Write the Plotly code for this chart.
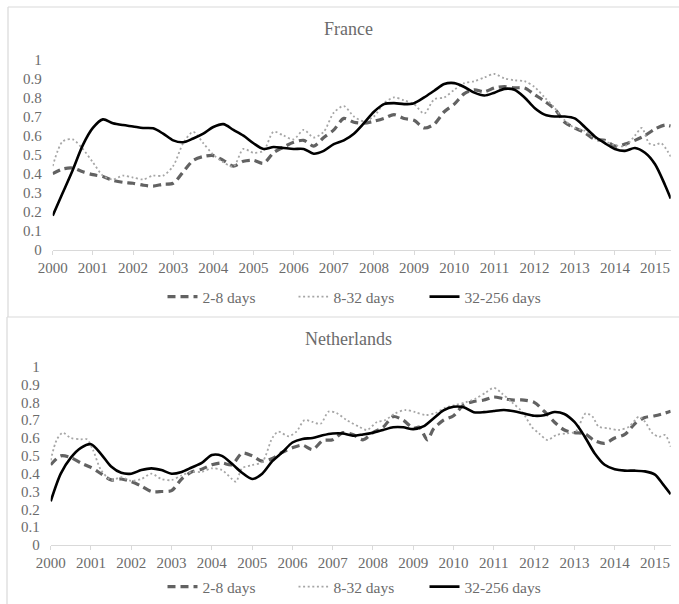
import plotly.graph_objects as go

W, H = 679, 604

# ---------------------------------------
# DATA
# ---------------------------------------
years = list(range(2000, 2016))
series_names = ["2-8 days", "8-32 days", "32-256 days"]

fr_short_x = [2000.00, 2000.25, 2000.50, 2000.75, 2001.00, 2001.25, 2001.50, 2001.75,
              2002.00, 2002.25, 2002.50, 2002.75, 2003.00, 2003.25, 2003.50, 2003.75,
              2004.00, 2004.25, 2004.50, 2004.75, 2005.00, 2005.25, 2005.50, 2005.75,
              2006.00, 2006.25, 2006.50, 2006.75, 2007.00, 2007.25, 2007.50, 2007.75,
              2008.00, 2008.25, 2008.50, 2008.75, 2009.00, 2009.25, 2009.50, 2009.75,
              2010.00, 2010.25, 2010.50, 2010.75, 2011.00, 2011.25, 2011.50, 2011.75,
              2012.00, 2012.25, 2012.50, 2012.75, 2013.00, 2013.25, 2013.50, 2013.75,
              2014.00, 2014.25, 2014.50, 2014.75, 2015.00, 2015.25, 2015.39]
fr_short_y = [0.40, 0.425, 0.43, 0.41, 0.395, 0.385, 0.365, 0.355,
              0.35, 0.34, 0.335, 0.345, 0.35, 0.41, 0.47, 0.49,
              0.495, 0.47, 0.44, 0.465, 0.47, 0.455, 0.51, 0.54,
              0.565, 0.575, 0.545, 0.59, 0.63, 0.69, 0.67, 0.665,
              0.675, 0.69, 0.71, 0.69, 0.68, 0.64, 0.66, 0.725,
              0.765, 0.82, 0.84, 0.83, 0.85, 0.857, 0.85, 0.85,
              0.815, 0.78, 0.74, 0.67, 0.64, 0.615, 0.58, 0.575,
              0.545, 0.555, 0.575, 0.60, 0.635, 0.655, 0.65]

fr_mid_x = [2000.00, 2000.25, 2000.50, 2000.75, 2001.00, 2001.25, 2001.50, 2001.75,
            2002.00, 2002.25, 2002.50, 2002.75, 2003.00, 2003.25, 2003.50, 2003.75,
            2004.00, 2004.25, 2004.50, 2004.75, 2005.00, 2005.25, 2005.50, 2005.75,
            2006.00, 2006.25, 2006.50, 2006.75, 2007.00, 2007.25, 2007.50, 2007.75,
            2008.00, 2008.25, 2008.50, 2008.75, 2009.00, 2009.25, 2009.50, 2009.75,
            2010.00, 2010.25, 2010.50, 2010.75, 2011.00, 2011.25, 2011.50, 2011.75,
            2012.00, 2012.25, 2012.50, 2012.75, 2013.00, 2013.25, 2013.50, 2013.75,
            2014.00, 2014.25, 2014.50, 2014.67, 2014.85, 2015.00, 2015.15, 2015.39]
fr_mid_y = [0.44, 0.57, 0.58, 0.53, 0.46, 0.39, 0.37, 0.39,
            0.38, 0.37, 0.39, 0.39, 0.44, 0.56, 0.62, 0.56,
            0.50, 0.46, 0.437, 0.53, 0.51, 0.52, 0.62, 0.60,
            0.58, 0.63, 0.59, 0.62, 0.72, 0.755, 0.70, 0.675,
            0.70, 0.77, 0.80, 0.785, 0.765, 0.715, 0.79, 0.80,
            0.84, 0.875, 0.885, 0.905, 0.923, 0.90, 0.89, 0.885,
            0.855, 0.80, 0.745, 0.68, 0.64, 0.625, 0.585, 0.57,
            0.55, 0.545, 0.60, 0.64, 0.56, 0.55, 0.56, 0.49]

fr_long_x = [2000.00, 2000.25, 2000.50, 2000.75, 2001.00, 2001.25, 2001.50, 2001.75,
             2002.00, 2002.25, 2002.50, 2002.75, 2003.00, 2003.25, 2003.50, 2003.75,
             2004.00, 2004.25, 2004.50, 2004.75, 2005.00, 2005.25, 2005.50, 2005.75,
             2006.00, 2006.25, 2006.50, 2006.75, 2007.00, 2007.25, 2007.50, 2007.75,
             2008.00, 2008.25, 2008.50, 2008.75, 2009.00, 2009.25, 2009.50, 2009.75,
             2010.00, 2010.25, 2010.50, 2010.75, 2011.00, 2011.25, 2011.50, 2011.75,
             2012.00, 2012.25, 2012.50, 2012.75, 2013.00, 2013.25, 2013.50, 2013.75,
             2014.00, 2014.25, 2014.50, 2014.75, 2015.00, 2015.25, 2015.39]
fr_long_y = [0.18, 0.30, 0.42, 0.55, 0.64, 0.685, 0.665, 0.655,
             0.648, 0.64, 0.638, 0.61, 0.575, 0.565, 0.585, 0.61,
             0.645, 0.66, 0.63, 0.60, 0.56, 0.53, 0.54, 0.535,
             0.53, 0.53, 0.505, 0.52, 0.555, 0.575, 0.61, 0.665,
             0.725, 0.765, 0.77, 0.765, 0.77, 0.80, 0.835, 0.87,
             0.875, 0.855, 0.825, 0.81, 0.825, 0.845, 0.84, 0.80,
             0.745, 0.71, 0.70, 0.70, 0.69, 0.645, 0.595, 0.56,
             0.53, 0.52, 0.535, 0.51, 0.45, 0.34, 0.27]

nl_short_x = [2000.00, 2000.25, 2000.50, 2000.75, 2001.00, 2001.25, 2001.50, 2001.75,
              2002.00, 2002.25, 2002.50, 2002.75, 2003.00, 2003.25, 2003.50, 2003.75,
              2004.00, 2004.25, 2004.50, 2004.75, 2005.00, 2005.25, 2005.50, 2005.75,
              2006.00, 2006.25, 2006.50, 2006.75, 2007.00, 2007.25, 2007.50, 2007.75,
              2008.00, 2008.25, 2008.50, 2008.75, 2009.00, 2009.15, 2009.35, 2009.50,
              2009.75, 2010.00, 2010.25, 2010.50, 2010.75, 2011.00, 2011.25, 2011.50,
              2011.75, 2012.00, 2012.25, 2012.50, 2012.75, 2013.00, 2013.25, 2013.50,
              2013.75, 2014.00, 2014.25, 2014.50, 2014.75, 2015.00, 2015.25, 2015.39]
nl_short_y = [0.45, 0.50, 0.49, 0.46, 0.435, 0.40, 0.365, 0.37,
              0.355, 0.33, 0.30, 0.30, 0.305, 0.37, 0.41, 0.425,
              0.45, 0.46, 0.45, 0.515, 0.50, 0.47, 0.485, 0.52,
              0.545, 0.56, 0.535, 0.585, 0.59, 0.63, 0.62, 0.59,
              0.63, 0.66, 0.72, 0.70, 0.655, 0.66, 0.59, 0.65,
              0.70, 0.725, 0.785, 0.805, 0.813, 0.83, 0.82, 0.813,
              0.813, 0.80, 0.75, 0.69, 0.645, 0.63, 0.625, 0.585,
              0.57, 0.60, 0.62, 0.68, 0.715, 0.725, 0.74, 0.75]

nl_mid_x = [2000.00, 2000.15, 2000.30, 2000.50, 2000.75, 2000.90, 2001.05, 2001.25,
            2001.50, 2001.75, 2002.00, 2002.25, 2002.50, 2002.75, 2003.00, 2003.25,
            2003.50, 2003.75, 2004.00, 2004.25, 2004.50, 2004.60, 2004.75, 2005.00,
            2005.25, 2005.50, 2005.65, 2005.90, 2006.10, 2006.30, 2006.50, 2006.70,
            2006.90, 2007.10, 2007.35, 2007.65, 2007.85, 2008.10, 2008.30, 2008.55,
            2008.80, 2009.05, 2009.30, 2009.55, 2009.80, 2010.05, 2010.30, 2010.55,
            2010.80, 2011.00, 2011.20, 2011.45, 2011.70, 2011.95, 2012.12, 2012.33,
            2012.55, 2012.80, 2013.03, 2013.28, 2013.45, 2013.60, 2013.86, 2014.10,
            2014.36, 2014.60, 2014.75, 2014.94, 2015.10, 2015.25, 2015.39]
nl_mid_y = [0.475, 0.59, 0.63, 0.60, 0.593, 0.593, 0.533, 0.42,
            0.364, 0.38, 0.36, 0.37, 0.40, 0.37, 0.364, 0.39,
            0.41, 0.41, 0.43, 0.42, 0.37, 0.355, 0.43, 0.448,
            0.465, 0.60, 0.636, 0.61, 0.636, 0.70, 0.69, 0.68,
            0.748, 0.74, 0.70, 0.664, 0.645, 0.69, 0.70, 0.738,
            0.757, 0.745, 0.729, 0.74, 0.77, 0.785, 0.80, 0.822,
            0.855, 0.882, 0.85, 0.80, 0.748, 0.66, 0.626, 0.589,
            0.617, 0.626, 0.636, 0.738, 0.72, 0.664, 0.654, 0.645,
            0.664, 0.72, 0.692, 0.626, 0.607, 0.617, 0.551]

nl_long_x = [2000.00, 2000.25, 2000.50, 2000.75, 2001.00, 2001.25, 2001.50, 2001.75,
             2002.00, 2002.25, 2002.50, 2002.75, 2003.00, 2003.25, 2003.50, 2003.75,
             2004.00, 2004.25, 2004.50, 2004.75, 2005.00, 2005.25, 2005.50, 2005.75,
             2006.00, 2006.25, 2006.50, 2006.75, 2007.00, 2007.25, 2007.50, 2007.75,
             2008.00, 2008.25, 2008.50, 2008.75, 2009.00, 2009.25, 2009.50, 2009.75,
             2010.00, 2010.25, 2010.50, 2010.75, 2011.00, 2011.25, 2011.50, 2011.75,
             2012.00, 2012.25, 2012.50, 2012.75, 2013.00, 2013.25, 2013.50, 2013.75,
             2014.00, 2014.25, 2014.50, 2014.75, 2015.00, 2015.20, 2015.39]
nl_long_y = [0.245, 0.40, 0.49, 0.545, 0.565, 0.51, 0.44, 0.405,
             0.40, 0.42, 0.43, 0.42, 0.40, 0.41, 0.435, 0.46,
             0.505, 0.50, 0.455, 0.405, 0.37, 0.40, 0.47, 0.52,
             0.575, 0.595, 0.60, 0.615, 0.625, 0.625, 0.613, 0.62,
             0.63, 0.645, 0.66, 0.66, 0.65, 0.665, 0.71, 0.755,
             0.775, 0.772, 0.745, 0.745, 0.752, 0.757, 0.75, 0.737,
             0.725, 0.728, 0.746, 0.735, 0.69, 0.61, 0.515, 0.45,
             0.425, 0.417, 0.417, 0.413, 0.395, 0.34, 0.285]

# ---------------------------------------
# STYLE
# ---------------------------------------
FONT = "Liberation Serif"
TEXT = "#6b6b6b"
AXIS = "#d9d9d9"

styles = [
    dict(color="#626262", width=3.2, dash="8px,5px"),
    dict(color="#a6a6a6", width=1.8, dash="2px,2.6px"),
    dict(color="#000000", width=2.6),
]


def px_x(x):
    return x / W


def px_y(y):
    return 1 - y / H


fig = go.Figure()

panels = [
    ("x", "y", "legend", [(fr_short_x, fr_short_y), (fr_mid_x, fr_mid_y), (fr_long_x, fr_long_y)]),
    ("x2", "y2", "legend2", [(nl_short_x, nl_short_y), (nl_mid_x, nl_mid_y), (nl_long_x, nl_long_y)]),
]

for xa, ya, leg, data in panels:
    for name, (xs, ys), st in zip(series_names, data, styles):
        fig.add_trace(go.Scatter(
            x=xs, y=ys, name=name, mode="lines",
            line=dict(shape="spline", smoothing=0.8, **st),
            xaxis=xa, yaxis=ya, legend=leg,
        ))

xaxis_common = dict(
    range=[2000, 2015.39],
    tickvals=years,
    ticktext=[str(y) for y in years],
    showgrid=False,
    zeroline=False,
    showline=True,
    linecolor=AXIS,
    linewidth=1,
    ticks="outside",
    ticklen=4,
    tickcolor=AXIS,
    automargin=False,
    tickfont=dict(family=FONT, size=15, color=TEXT),
)
yaxis_common = dict(
    range=[0, 1],
    dtick=0.1,
    showgrid=False,
    zeroline=False,
    showline=False,
    ticks="",
    ticklabelstandoff=10,
    automargin=False,
    tickfont=dict(family=FONT, size=15, color=TEXT),
)

legend_common = dict(
    orientation="h",
    xanchor="center",
    yanchor="middle",
    x=359 / W,
    font=dict(family=FONT, size=15.5, color=TEXT),
    bgcolor="rgba(0,0,0,0)",
    entrywidth=86,
)

fig.update_layout(
    template="none",
    width=W,
    height=H,
    margin=dict(l=0, r=0, t=0, b=0, autoexpand=False),
    paper_bgcolor="white",
    plot_bgcolor="white",
    showlegend=True,
    xaxis=dict(domain=[px_x(52.7), px_x(670.7)], anchor="y", **xaxis_common),
    yaxis=dict(domain=[px_y(250), px_y(59.3)], anchor="x", **yaxis_common),
    xaxis2=dict(domain=[px_x(50.7), px_x(670.7)], anchor="y2", **xaxis_common),
    yaxis2=dict(domain=[px_y(545), px_y(366.7)], anchor="x2", **yaxis_common),
    legend=dict(y=px_y(297), **legend_common),
    legend2=dict(y=px_y(587), **legend_common),
)

# panel titles
for title, ty in [("France", 29), ("Netherlands", 339)]:
    fig.add_annotation(
        text=title, xref="paper", yref="paper",
        x=px_x(349), y=px_y(ty), xanchor="center", yanchor="middle",
        showarrow=False, font=dict(family=FONT, size=18, color=TEXT),
    )

# chart frames
frame = dict(type="line", xref="paper", yref="paper", line=dict(color=AXIS, width=1.2))
fig.add_shape(x0=px_x(8), x1=px_x(8), y0=px_y(7), y1=px_y(317), **frame)
fig.add_shape(x0=px_x(7), x1=px_x(7), y0=px_y(317), y1=px_y(604), **frame)
fig.add_shape(x0=px_x(8), x1=1, y0=px_y(7), y1=px_y(7), **frame)
fig.add_shape(x0=px_x(7), x1=1, y0=px_y(317), y1=px_y(317), **frame)

# drop the default page margin so the figure sits at the window origin
fig.write_html(
    "out.html",
    config={"displayModeBar": False},
    post_script="document.body.style.margin='0';document.body.style.overflow='hidden';",
)
